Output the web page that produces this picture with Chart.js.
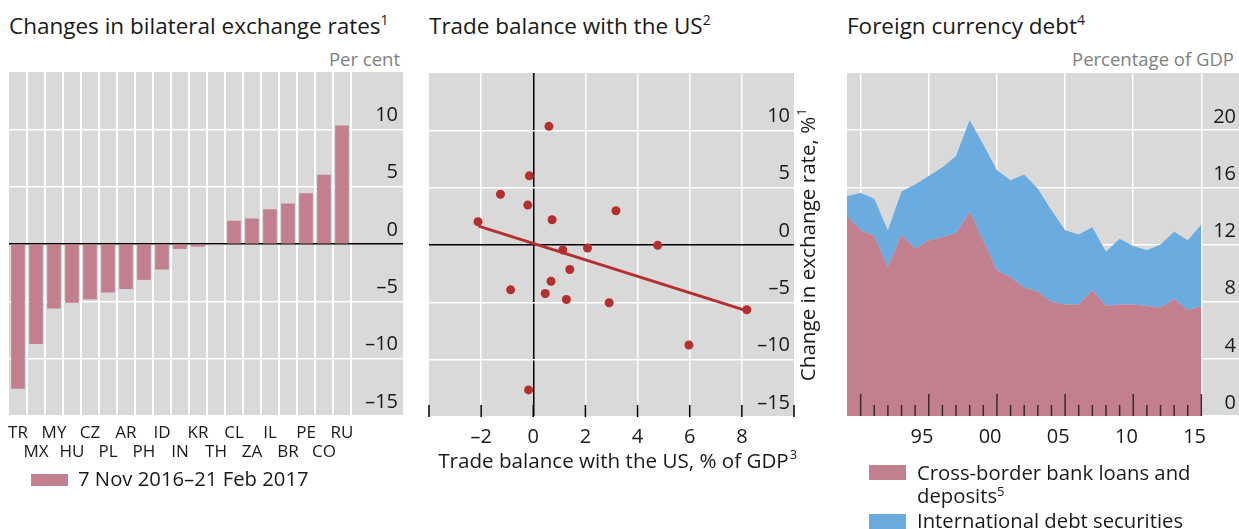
<!DOCTYPE html>
<html>
<head>
<meta charset="utf-8">
<script src="https://cdn.jsdelivr.net/npm/chart.js@4.4.1/dist/chart.umd.min.js"></script>
<style>
  body { margin: 0; background: #fff; font-family: 'Open Sans', sans-serif; color: #1a1a1a; }
  #wrap { position: relative; width: 1239px; height: 529px; overflow: hidden; }
  canvas { position: absolute; top: 0; }
  .t { position: absolute; white-space: nowrap; line-height: 1; }
  .title { font-size: 22.5px; top: 15px; }
  .title sup { font-size: 14px; vertical-align: top; position: relative; top: -2px; }
  .unit { font-size: 18.5px; color: #808080; top: 50px; }
  .leg { font-size: 20.3px; line-height: 23px; }
  .leg sup { font-size: 13px; vertical-align: top; position: relative; top: -4px; }
  .box { position: absolute; }
</style>
</head>
<body>
<div id="wrap">
  <div class="t title" style="left:9px">Changes in bilateral exchange rates<sup>1</sup></div>
  <div class="t title" style="left:429px">Trade balance with the US<sup>2</sup></div>
  <div class="t title" style="left:847px">Foreign currency debt<sup>4</sup></div>
  <div class="t unit" style="right:839px">Per cent</div>
  <div class="t unit" style="right:5px">Percentage of GDP</div>

  <canvas id="fxChart" width="420" height="529" style="left:0"></canvas>
  <canvas id="tradeChart" width="420" height="529" style="left:420px"></canvas>
  <canvas id="debtChart" width="399" height="529" style="left:840px"></canvas>

  <div class="box" style="left:31px;top:474px;width:37px;height:12px;background:#c27f8e"></div>
  <div class="t leg" style="left:78px;top:467px">7 Nov 2016–21 Feb 2017</div>

  <div class="box" style="left:869px;top:465px;width:37px;height:15px;background:#c27f8e"></div>
  <div class="t leg" style="left:917px;top:461px">Cross-border bank loans and<br>deposits<sup>5</sup></div>
  <div class="box" style="left:869px;top:514px;width:37px;height:15px;background:#6aace0"></div>
  <div class="t leg" style="left:917px;top:509px">International debt securities</div>
</div>

<script>
// --- Data ---
const countries = ['TR', 'MX', 'MY', 'HU', 'CZ', 'PL', 'AR', 'PH', 'ID', 'IN', 'KR', 'TH', 'CL', 'ZA', 'IL', 'BR', 'PE', 'CO', 'RU'];
const fxChange = [-12.6, -8.7, -5.6, -5.1, -4.8, -4.2, -3.9, -3.1, -2.2, -0.4, -0.2, -0.05, 2.0, 2.2, 3.0, 3.5, 4.4, 6.0, 10.3];
const fxTicks = [-15, -10, -5, 0, 5, 10];

const tradeBalance = [0.60, -0.15, -1.26, -0.21, -2.12, 0.72, 3.17, 4.77, 1.13, 2.08, 1.40, 0.68, -0.87, 0.46, 1.27, 2.91, 8.19, 5.97, -0.18];
const rateChange = [10.35, 6.03, 4.43, 3.48, 2.03, 2.20, 2.99, -0.03, -0.43, -0.26, -2.14, -3.16, -3.91, -4.23, -4.75, -5.04, -5.65, -8.72, -12.64];
const fitX = [-2.1, 8.2];
const fitY = [1.65, -5.75];
const tradeTicksX = [-4, -2, 0, 2, 4, 6, 8, 10];
const tradeLabelsX = [-2, 0, 2, 4, 6, 8];
const tradeTicksY = [-15, -10, -5, 0, 5, 10];

const years = [1990, 1991, 1992, 1993, 1994, 1995, 1996, 1997, 1998, 1999, 2000, 2001, 2002, 2003,
  2004, 2005, 2006, 2007, 2008, 2009, 2010, 2011, 2012, 2013, 2014, 2015, 2016];
const bankLoans = [14.0, 13.0, 12.6, 10.4, 12.7, 11.7, 12.3, 12.5, 12.8, 14.3, 12.3, 10.2, 9.7, 9.0,
  8.7, 8.0, 7.8, 7.8, 8.8, 7.7, 7.8, 7.8, 7.7, 7.6, 8.2, 7.4, 7.7];
const debtSecurities = [1.4, 2.6, 2.6, 2.6, 3.0, 4.5, 4.5, 4.9, 5.4, 6.4, 6.7, 7.0, 6.8, 7.9,
  7.2, 6.4, 5.2, 4.9, 4.4, 3.8, 4.6, 4.1, 3.9, 4.4, 4.7, 4.9, 5.7];
const debtTicks = [0, 4, 8, 12, 16, 20];
const yearGrid = [1991, 1996, 2001, 2006, 2011, 2016];
const yearLabels = ['95', '00', '05', '10', '15'];
const yearLabelPos = [1995.5, 2000.5, 2005.5, 2010.5, 2015.5];

// --- Shared helpers ---
const GREY = '#d9d9d9';
const INK = '#1a1a1a';
const TICK_FONT = "20px 'Open Sans'";

function fmt(v) {
  return v < 0 ? '–' + Math.abs(v) : String(v);
}

function fillArea(chart) {
  const { ctx, chartArea: a } = chart;
  ctx.save();
  ctx.fillStyle = GREY;
  ctx.fillRect(a.left, a.top, a.right - a.left, a.bottom - a.top);
  ctx.restore();
}

function yLabels(chart, values, xRight, lift) {
  const { ctx } = chart;
  const y = chart.scales.y;
  ctx.save();
  ctx.font = TICK_FONT;
  ctx.fillStyle = INK;
  ctx.textAlign = 'right';
  ctx.textBaseline = 'middle';
  values.forEach(v => ctx.fillText(fmt(v), xRight, y.getPixelForValue(v) - lift));
  ctx.restore();
}

function gridColor(c) {
  return c.tick && c.tick.value === 0 ? '#000' : '#fff';
}

// --- Chart 1: bilateral exchange rates ---
new Chart(document.getElementById('fxChart'), {
  type: 'bar',
  data: {
    datasets: [{
      data: fxChange.map((v, i) => ({ x: i, y: v })),
      backgroundColor: '#c27f8e',
      barThickness: 13
    }]
  },
  options: {
    responsive: false,
    animation: false,
    layout: { padding: { left: 9, right: 17, top: 72, bottom: 113 } },
    plugins: { legend: { display: false }, tooltip: { enabled: false } },
    scales: {
      x: {
        type: 'linear', min: -0.5, max: 21.39, offset: false,
        afterBuildTicks: axis => { axis.ticks = countries.map((c, i) => ({ value: i + 0.5 })); },
        ticks: { display: false },
        grid: { color: '#fff', lineWidth: 2, drawTicks: false, offset: false },
        border: { display: false }
      },
      y: {
        min: -15, max: 15,
        afterBuildTicks: axis => { axis.ticks = fxTicks.map(v => ({ value: v })); },
        ticks: { display: false },
        grid: { color: gridColor, lineWidth: 1.5, drawTicks: false },
        border: { display: false }
      }
    }
  },
  plugins: [{
    id: 'fxDecor',
    beforeDraw: fillArea,
    afterDraw(chart) {
      const { ctx, chartArea: a } = chart;
      const x = chart.scales.x;
      yLabels(chart, fxTicks, a.right - 5, 14);
      ctx.save();
      ctx.font = "17px 'Open Sans'";
      ctx.fillStyle = INK;
      ctx.textAlign = 'center';
      ctx.textBaseline = 'middle';
      countries.forEach((c, i) => {
        ctx.fillText(c, x.getPixelForValue(i), a.bottom + (i % 2 ? 36 : 17));
      });
      ctx.restore();
    }
  }]
});

// --- Chart 2: trade balance scatter ---
const RED = '#b3302f';
new Chart(document.getElementById('tradeChart'), {
  type: 'scatter',
  data: {
    datasets: [{
      type: 'line',
      data: fitX.map((v, i) => ({ x: v, y: fitY[i] })),
      borderColor: RED,
      borderWidth: 3,
      pointRadius: 0,
      fill: false
    }, {
      data: tradeBalance.map((v, i) => ({ x: v, y: rateChange[i] })),
      backgroundColor: RED,
      borderWidth: 0,
      pointRadius: 4.5
    }]
  },
  options: {
    responsive: false,
    animation: false,
    layout: { padding: { left: 9, right: 46, top: 73, bottom: 112 } },
    plugins: { legend: { display: false }, tooltip: { enabled: false } },
    scales: {
      x: {
        type: 'linear', min: -4, max: 10,
        afterBuildTicks: axis => { axis.ticks = tradeLabelsX.map(v => ({ value: v })); },
        ticks: { display: false },
        grid: { color: gridColor, lineWidth: 1.5, drawTicks: false },
        border: { display: false }
      },
      y: {
        min: -15, max: 15,
        afterBuildTicks: axis => { axis.ticks = tradeTicksY.map(v => ({ value: v })); },
        ticks: { display: false },
        grid: { color: gridColor, lineWidth: 1.5, drawTicks: false },
        border: { display: false }
      }
    }
  },
  plugins: [{
    id: 'tradeDecor',
    beforeDraw: fillArea,
    afterDraw(chart) {
      const { ctx, chartArea: a } = chart;
      const x = chart.scales.x;
      // tick marks along the bottom
      ctx.save();
      ctx.strokeStyle = '#000';
      ctx.lineWidth = 1.5;
      tradeTicksX.forEach(v => {
        const px = x.getPixelForValue(v);
        ctx.beginPath();
        ctx.moveTo(px, a.bottom - 12);
        ctx.lineTo(px, a.bottom);
        ctx.stroke();
      });
      ctx.restore();
      yLabels(chart, tradeTicksY, a.right - 4, 14);
      ctx.save();
      ctx.font = TICK_FONT;
      ctx.fillStyle = INK;
      ctx.textAlign = 'center';
      ctx.textBaseline = 'middle';
      tradeLabelsX.forEach(v => ctx.fillText(fmt(v), x.getPixelForValue(v), a.bottom + 20));
      // axis titles
      ctx.font = "20.6px 'Open Sans'";
      const xt = 'Trade balance with the US, % of GDP';
      const w = ctx.measureText(xt).width;
      const cx = (a.left + a.right) / 2 + 2;
      ctx.textAlign = 'left';
      ctx.fillText(xt, cx - w / 2, a.bottom + 45);
      ctx.font = "13px 'Open Sans'";
      ctx.fillText('3', cx + w / 2 + 1, a.bottom + 38);
      ctx.translate(a.right + 15, (a.top + a.bottom) / 2);
      ctx.rotate(-Math.PI / 2);
      ctx.font = "20.6px 'Open Sans'";
      const yt = 'Change in exchange rate, %';
      const wy = ctx.measureText(yt).width;
      ctx.fillText(yt, -wy / 2 - 4, 0);
      ctx.font = "13px 'Open Sans'";
      ctx.fillText('1', wy / 2 - 3, -7);
      ctx.restore();
    }
  }]
});

// --- Chart 3: foreign currency debt ---
new Chart(document.getElementById('debtChart'), {
  type: 'line',
  data: {
    datasets: [{
      data: years.map((yr, i) => ({ x: yr, y: bankLoans[i] })),
      backgroundColor: '#c27f8e',
      borderWidth: 0,
      pointRadius: 0,
      fill: 'origin'
    }, {
      data: years.map((yr, i) => ({ x: yr, y: debtSecurities[i] })),
      backgroundColor: '#6aace0',
      borderWidth: 0,
      pointRadius: 0,
      fill: '-1'
    }]
  },
  options: {
    responsive: false,
    animation: false,
    layout: { padding: { left: 7, right: 0, top: 73, bottom: 113 } },
    plugins: { legend: { display: false }, tooltip: { enabled: false } },
    scales: {
      x: {
        type: 'linear', min: 1990, max: 2018.76,
        afterBuildTicks: axis => { axis.ticks = yearGrid.map(v => ({ value: v })); },
        ticks: { display: false },
        grid: { color: '#fff', lineWidth: 1.5, drawTicks: false },
        border: { display: false }
      },
      y: {
        stacked: true,
        min: 0, max: 24,
        afterBuildTicks: axis => { axis.ticks = debtTicks.map(v => ({ value: v })); },
        ticks: { display: false },
        grid: { color: '#fff', lineWidth: 1.5, drawTicks: false },
        border: { display: false }
      }
    }
  },
  plugins: [{
    id: 'debtDecor',
    beforeDraw: fillArea,
    afterDatasetsDraw(chart) {
      const { ctx, chartArea: a } = chart;
      const x = chart.scales.x;
      ctx.save();
      ctx.strokeStyle = '#3a2a2e';
      ctx.lineWidth = 1.5;
      years.slice(1).forEach(yr => {
        const px = x.getPixelForValue(yr);
        const long = yearGrid.includes(yr);
        ctx.beginPath();
        ctx.moveTo(px, a.bottom - (long ? 22 : 11));
        ctx.lineTo(px, a.bottom);
        ctx.stroke();
      });
      ctx.restore();
    },
    afterDraw(chart) {
      const { ctx, chartArea: a } = chart;
      const x = chart.scales.x;
      yLabels(chart, debtTicks, a.right - 3, 13);
      ctx.save();
      ctx.font = TICK_FONT;
      ctx.fillStyle = INK;
      ctx.textAlign = 'center';
      ctx.textBaseline = 'middle';
      yearLabelPos.forEach((v, i) => ctx.fillText(yearLabels[i], x.getPixelForValue(v), a.bottom + 21));
      ctx.restore();
    }
  }]
});
</script>
</body>
</html>
